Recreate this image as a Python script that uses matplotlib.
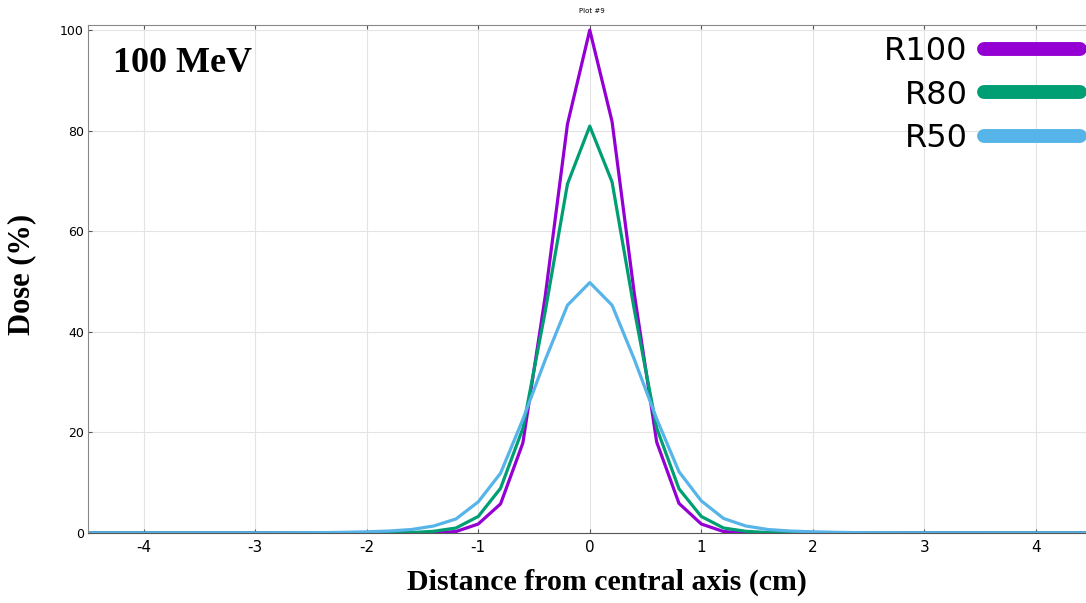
import numpy as np
import matplotlib
matplotlib.use("Agg")
import matplotlib.pyplot as plt

plt.rcParams["axes.unicode_minus"] = False

# lateral positions (cm), 0.2 cm steps, -5.0 .. 5.0 (51 points)
x_cm = np.round(np.arange(-5.0, 5.01, 0.2), 1)

# x = -5.0 ... -3.2 | -3.0 ... -1.2 | -1.0 ... 0.8 | 1.0 ... 2.8 | 3.0 ... 4.8 | 5.0
r100 = [0, 0, 0, 0, 0, 0, 0, 0, 0, 0,
        0, 0, 0, 0, 0, 0, 0, 0.01, 0.05, 0.3,
        1.8, 5.8, 17.9, 47.0, 81.3, 100.0, 81.8, 47.5, 18.1, 5.9,
        1.8, 0.3, 0.05, 0.01, 0, 0, 0, 0, 0, 0,
        0, 0, 0, 0, 0, 0, 0, 0, 0, 0, 0]
r80 = [0, 0, 0, 0, 0, 0, 0, 0, 0, 0,
       0, 0, 0, 0, 0, 0.01, 0.03, 0.1, 0.35, 1.0,
       3.3, 8.9, 20.8, 44.0, 69.4, 80.9, 69.8, 44.3, 20.9, 8.8,
       3.3, 1.0, 0.35, 0.1, 0.03, 0.01, 0, 0, 0, 0,
       0, 0, 0, 0, 0, 0, 0, 0, 0, 0, 0]
r50 = [0, 0, 0, 0, 0, 0, 0, 0, 0.01, 0.01,
       0.02, 0.03, 0.05, 0.08, 0.15, 0.25, 0.4, 0.7, 1.4, 2.8,
       6.2, 11.9, 22.6, 34.4, 45.3, 49.8, 45.3, 34.5, 22.7, 12.2,
       6.4, 2.9, 1.4, 0.7, 0.4, 0.25, 0.15, 0.08, 0.05, 0.03,
       0.02, 0.01, 0.01, 0, 0, 0, 0, 0, 0, 0, 0]

series = [("R100", r100, "#9400D3"),
          ("R80", r80, "#009E73"),
          ("R50", r50, "#56B4E9")]

fig = plt.figure(figsize=(10.86, 6.03), dpi=100)
ax = fig.add_axes([0.081, 0.116, 0.919, 0.8425])

for name, vals, col in series:
    ax.plot(x_cm, vals, color=col, lw=2.3, label=name)

ax.set_xlim(-4.5, 4.45)
ax.set_ylim(0, 101)
ax.set_xticks([-4, -3, -2, -1, 0, 1, 2, 3, 4])
ax.set_yticks([0, 20, 40, 60, 80, 100])
ax.grid(True, color="#e3e3e3", lw=0.8)
ax.set_axisbelow(True)
ax.tick_params(direction="in", top=True, length=3, color="#555555")
ax.tick_params(axis="x", labelsize=11, pad=5)
ax.tick_params(axis="y", labelsize=9, pad=3)
for side in ["top", "left"]:
    ax.spines[side].set_color("#888888")
ax.spines["bottom"].set_color("#555555")
ax.spines["right"].set_visible(False)

ax.set_title("Plot #9", fontsize=5, x=0.505, pad=9)

ax.text(0.025, 0.925, "100 MeV", transform=ax.transAxes, family="Liberation Serif",
        fontweight="bold", fontsize=26, va="center", ha="left")

fig.text(0.02, 0.545, "Dose (%)", rotation=90, family="Liberation Serif",
         fontweight="bold", fontsize=22, ha="center", va="center")
fig.text(0.559, 0.035, "Distance from central axis (cm)", family="Liberation Serif",
         fontweight="bold", fontsize=21.5, ha="center", va="center")

leg = ax.legend(loc="upper right", bbox_to_anchor=(1.0, 0.99), markerfirst=False,
                frameon=False, fontsize=23, handlelength=3.0, handletextpad=0.5,
                labelspacing=0.38, borderaxespad=0.0, borderpad=0.2)
for h in leg.legend_handles:
    h.set_linewidth(10)
    h.set_solid_capstyle("round")

fig.savefig("out.png", dpi=100)
